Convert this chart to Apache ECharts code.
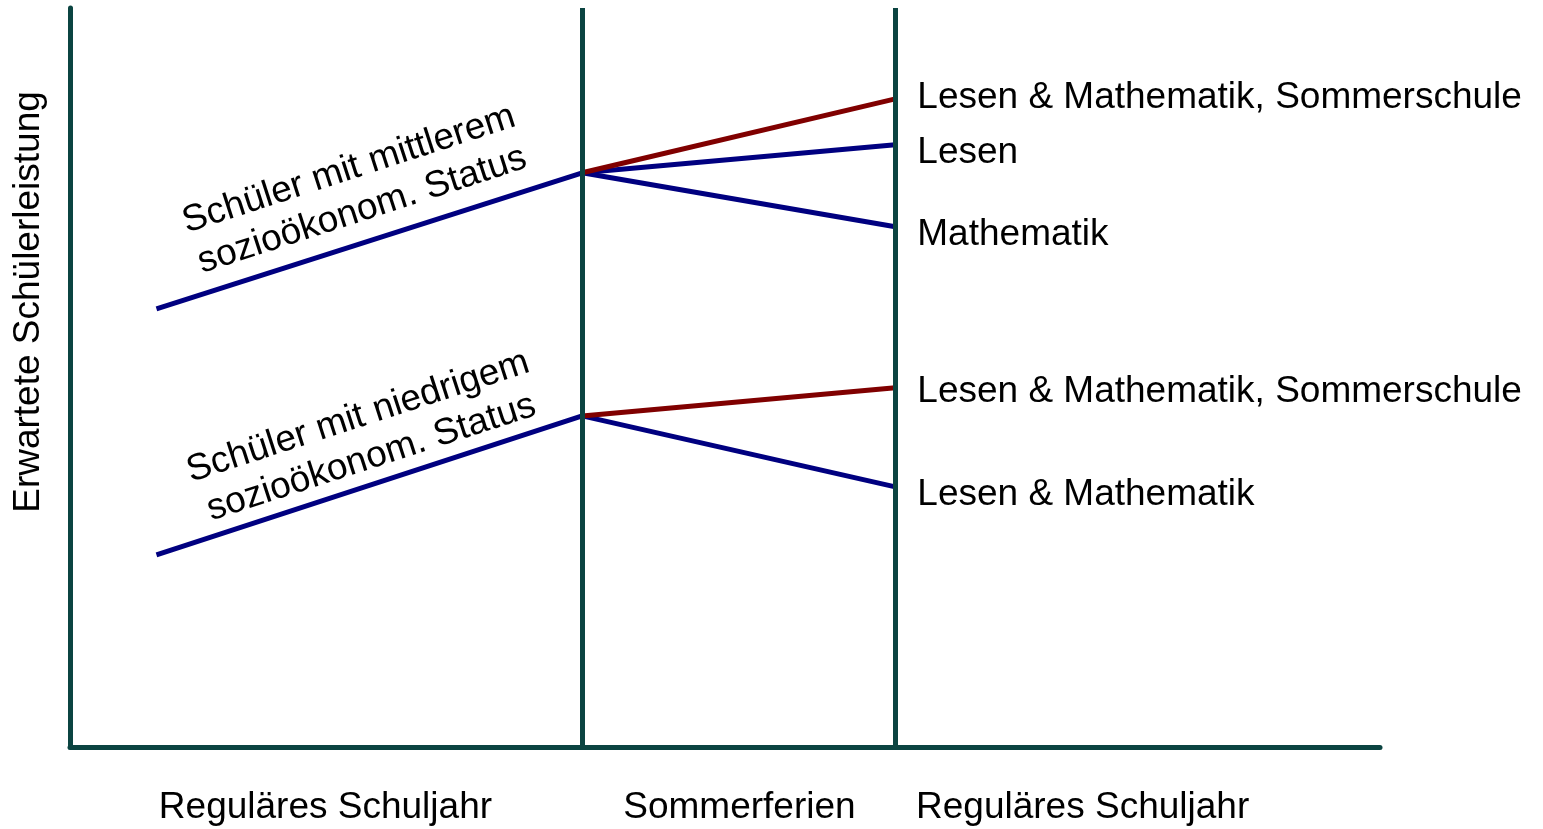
<!DOCTYPE html>
<html>
<head>
<meta charset="utf-8">
<script src="https://cdn.jsdelivr.net/npm/echarts@6/dist/echarts.min.js"></script>
<style>
    html, body { margin: 0; padding: 0; background: #fff; }
    #chart { width: 1543px; height: 829px; }
</style>
</head>
<body>
<div id="chart"></div>
<script>
    // x positions (0..100): start of year, start of summer, end of summer
    var xStart = 6.6, xSummer = 39.1, xEnd = 63;

    // phase labels under the x axis
    var phasePos = [19.5, 51.1, 77.3];
    var phaseNames = ['Reguläres Schuljahr', 'Sommerferien', 'Reguläres Schuljahr'];

    // middle SES: school year, then summer outcomes
    var midYear = [59.3, 77.7];
    var midBoth = 87.7, midRead = 81.5, midMath = 70.4;
    // low SES
    var lowYear = [26.0, 44.8];
    var lowBoth = 48.6, lowNone = 35.2;

    var endNames = ['Lesen & Mathematik, Sommerschule', 'Lesen', 'Mathematik',
                    'Lesen & Mathematik, Sommerschule', 'Lesen & Mathematik'];

    var groupNames = ['Schüler mit mittlerem\nsozioökonom. Status',
                      'Schüler mit niedrigem\nsozioökonom. Status'];
    var groupPos = [[21.8, 75.4], [22.5, 41.9]];

    var teal = '#0b4441', navy = '#000080', maroon = '#800000';
    var font = 'Liberation Sans, Arial, sans-serif';

    var myChart = echarts.init(document.getElementById('chart'));

    function seg(name, from, to, color, z, offY) {
        return {
            name: name,
            type: 'line',
            data: [from, to],
            showSymbol: false,
            silent: true,
            z: z,
            lineStyle: { color: color, width: 5 },
            endLabel: {
                show: offY !== undefined,
                formatter: '{a}',
                distance: 22,
                offset: [0, offY || 0],
                color: '#000',
                fontSize: 37,
                fontFamily: font
            }
        };
    }

    var option = {
        animation: false,
        grid: { left: 70, right: 163, top: 8, bottom: 82 },
        xAxis: {
            type: 'value',
            min: 0,
            max: 100,
            splitLine: { show: false },
            axisTick: { show: false },
            axisLine: { lineStyle: { color: teal, width: 5 } },
            axisLabel: {
                customValues: phasePos,
                margin: 42,
                color: '#000',
                fontSize: 37,
                fontFamily: font,
                formatter: function (v) {
                    var i = phasePos.indexOf(v);
                    return i >= 0 ? phaseNames[i] : '';
                }
            }
        },
        yAxis: {
            type: 'value',
            min: 0,
            max: 100,
            name: 'Erwartete Schülerleistung',
            nameLocation: 'middle',
            nameRotate: 90,
            nameGap: 23,
            nameTextStyle: {
                color: '#000',
                fontSize: 37,
                fontFamily: font,
                padding: [0, 0, 0, 151]
            },
            splitLine: { show: false },
            axisTick: { show: false },
            axisLabel: { show: false },
            axisLine: { show: true, lineStyle: { color: teal, width: 5 } }
        },
        series: [
            {
                type: 'line',
                data: [],
                silent: true,
                markLine: {
                    silent: true,
                    symbol: 'none',
                    label: { show: false },
                    lineStyle: { color: teal, width: 5, type: 'solid' },
                    data: [{ xAxis: xSummer }, { xAxis: xEnd }]
                }
            },
            seg('mid', [xStart, midYear[0]], [xSummer, midYear[1]], navy, 3),
            seg(endNames[1], [xSummer, midYear[1]], [xEnd, midRead], navy, 3, 8),
            seg(endNames[2], [xSummer, midYear[1]], [xEnd, midMath], navy, 3, 8),
            seg(endNames[0], [xSummer, midYear[1]], [xEnd, midBoth], maroon, 4, -1),
            seg('low', [xStart, lowYear[0]], [xSummer, lowYear[1]], navy, 3),
            seg(endNames[4], [xSummer, lowYear[1]], [xEnd, lowNone], navy, 3, 8),
            seg(endNames[3], [xSummer, lowYear[1]], [xEnd, lowBoth], maroon, 4, 4),
            {
                type: 'scatter',
                silent: true,
                symbolSize: 0,
                itemStyle: { opacity: 1 },
                data: groupPos.map(function (p, i) { return { value: p, name: groupNames[i] }; }),
                label: {
                    show: true,
                    position: 'inside',
                    rotate: 18,
                    align: 'center',
                    verticalAlign: 'middle',
                    lineHeight: 43,
                    color: '#000',
                    opacity: 1,
                    fontSize: 37,
                    fontFamily: font,
                    formatter: '{b}'
                }
            }
        ]
    };
    myChart.setOption(option);
</script>
</body>
</html>
